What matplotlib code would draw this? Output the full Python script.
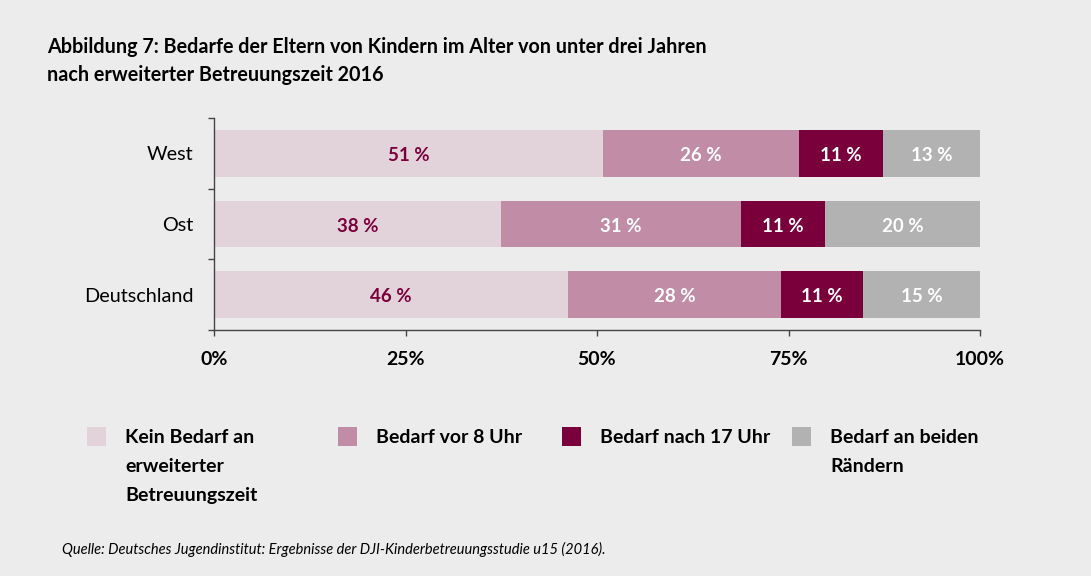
import numpy as np
import matplotlib
matplotlib.use('Agg')
import matplotlib.pyplot as plt
from matplotlib.patches import Rectangle

plt.rcParams['font.family'] = ['Lato', 'DejaVu Sans']

regions = ['West', 'Ost', 'Deutschland']
series = ['Kein Bedarf an\nerweiterter\nBetreuungszeit', 'Bedarf vor 8 Uhr',
          'Bedarf nach 17 Uhr', 'Bedarf an beiden\nRändern']
kein = [50.8, 37.5, 46.2]
vor8 = [25.6, 31.3, 27.8]
nach17 = [10.9, 11.0, 10.7]
beide = [12.7, 20.2, 15.3]
labels = [['51 %', '26 %', '11 %', '13 %'],
          ['38 %', '31 %', '11 %', '20 %'],
          ['46 %', '28 %', '11 %', '15 %']]
xticks = [0, 25, 50, 75, 100]
xticklabels = ['0%', '25%', '50%', '75%', '100%']

colors = ['#e2d3da', '#c08ca6', '#7a003c', '#b2b2b2']
text_colors = ['#7a003c', 'white', 'white', 'white']
bg = '#ececec'

fig = plt.figure(figsize=(10.91, 5.76), dpi=100, facecolor=bg)
ax = fig.add_axes([214 / 1091, 1 - 330 / 576, 766 / 1091, 212 / 576])
ax.set_facecolor(bg)

y = np.arange(len(regions))
left = np.zeros(len(regions))
for j, vals in enumerate([kein, vor8, nach17, beide]):
    vals = np.array(vals)
    ax.barh(y, vals, left=left, height=0.665, color=colors[j], linewidth=0)
    for i in range(len(regions)):
        ax.text(left[i] + vals[i] / 2, y[i] + 0.03, labels[i][j], ha='center', va='center',
                fontsize=13.5, fontweight='bold', color=text_colors[j])
    left += vals

ax.set_xlim(0, 100)
ax.set_ylim(2.5, -0.5)
ax.set_xticks(xticks)
ax.set_xticklabels(xticklabels, fontsize=14, fontweight='bold')
ax.tick_params(axis='x', length=4, pad=11, color='#444444', width=1)
ax.set_yticks([-0.5, 0.5, 1.5, 2.5])
ax.set_yticklabels([])
ax.set_yticks(y, minor=True)
ax.set_yticklabels(regions, minor=True, fontsize=14.3)
ax.tick_params(axis='y', which='major', length=4, color='#444444', width=1)
ax.tick_params(axis='y', which='minor', length=0, pad=15)
for s in ['top', 'right']:
    ax.spines[s].set_visible(False)
for s in ['left', 'bottom']:
    ax.spines[s].set_color('#444444')
    ax.spines[s].set_linewidth(1)

fig.text(47 / 1091, 1 - 47 / 576,
         'Abbildung 7: Bedarfe der Eltern von Kindern im Alter von unter drei Jahren',
         fontsize=14.2, fontweight='bold', va='center', ha='left')
fig.text(47 / 1091, 1 - 75 / 576, 'nach erweiterter Betreuungszeit 2016',
         fontsize=14.2, fontweight='bold', va='center', ha='left')

# legend
leg_x = [87, 338, 562, 792]
for j, name in enumerate(series):
    fig.add_artist(Rectangle((leg_x[j] / 1091, 1 - 446 / 576), 19 / 1091, 19 / 576,
                             transform=fig.transFigure, color=colors[j], linewidth=0))
    fig.text((leg_x[j] + 38) / 1091, 1 - 429 / 576, name, fontsize=14, fontweight='bold',
             va='top', ha='left', linespacing=1.85)

fig.text(62 / 1091, 1 - 549 / 576,
         'Quelle: Deutsches Jugendinstitut: Ergebnisse der DJI-Kinderbetreuungsstudie u15 (2016).',
         fontsize=10.5, style='italic', va='center', ha='left')

fig.savefig('out.png', dpi=100, facecolor=bg)
